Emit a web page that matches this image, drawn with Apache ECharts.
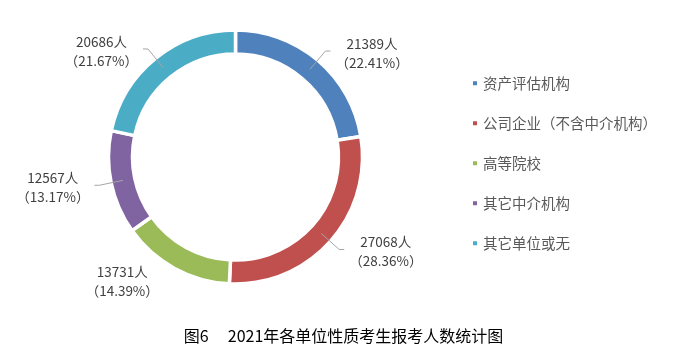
<!DOCTYPE html>
<html>
<head>
<meta charset="utf-8">
<script src="https://cdn.jsdelivr.net/npm/echarts@6/dist/echarts.min.js"></script>
<style>html,body{margin:0;padding:0;background:#fff}#c{width:687px;height:362px}</style>
</head>
<body>
<div id="c"></div>
<script>
const categories = ['资产评估机构', '公司企业（不含中介机构）', '高等院校', '其它中介机构', '其它单位或无'];
const values = [21389, 27068, 13731, 12567, 20686];
const colors = ['#4F81BD', '#C0504D', '#9BBB59', '#8064A2', '#4BACC6'];
const titleFigure = '图6';
const titleText = '2021年各单位性质考生报考人数统计图';

const CX = 235.5, CY = 157, R_IN = 103, R_OUT = 127;
const total = values.reduce((a, b) => a + b, 0);
const cum = [];
values.reduce((acc, v, i) => { cum[i] = acc; return acc + v; }, 0);

const chart = echarts.init(document.getElementById('c'), null, {renderer: 'canvas'});
const labelFont = "'Noto Sans CJK SC', sans-serif";

const pieData = values.map((v, i) => ({value: v, name: categories[i]}));

chart.setOption({
  animation: false,
  color: colors,
  title: {
    text: '{a|' + titleFigure + '}  ' + titleText,
    left: 'center',
    top: 323,
    textStyle: {
      fontSize: 16, fontWeight: 'normal', color: '#000', fontFamily: labelFont,
      rich: {a: {fontSize: 16, color: '#000', fontFamily: labelFont, padding: [0, 12, 0, 0]}}
    }
  },
  legend: {
    orient: 'vertical',
    left: 466,
    top: 71,
    icon: 'rect',
    itemWidth: 6,
    itemHeight: 6,
    itemGap: 25.5,
    textStyle: {fontSize: 14.5, color: '#595959', fontFamily: labelFont, padding: [0, 0, 0, 0]},
    data: categories
  },
  series: [{
    type: 'pie',
    center: [CX, CY],
    radius: [R_IN, R_OUT],
    startAngle: 90,
    clockwise: true,
    z: 2,
    itemStyle: {borderColor: '#fff', borderWidth: 3.5},
    label: {show: false},
    labelLine: {show: false},
    data: pieData
  }, {
    type: 'pie',
    center: [CX, CY],
    radius: [R_IN, R_OUT],
    startAngle: 90,
    clockwise: true,
    z: 5,
    silent: true,
    percentPrecision: 2,
    itemStyle: {color: 'rgba(0,0,0,0)', borderWidth: 0},
    label: {
      show: true,
      position: 'outside',
      color: '#404040',
      fontSize: 13.5,
      lineHeight: 19,
      fontFamily: labelFont,
      formatter: p => p.value + '人\n（' + p.percent.toFixed(2) + '%）'
    },
    labelLine: {show: true, length: 10, length2: 5, lineStyle: {color: '#A6A6A6', width: 1}},
    labelLayout: function (params) {
      const i = params.dataIndex;
      const mid = (90 - (cum[i] + values[i] / 2) / total * 360) * Math.PI / 180;
      const cos = Math.cos(mid), sin = -Math.sin(mid);
      const side = cos >= 0 ? 1 : -1;
      const sx = CX + 115 * cos, sy = CY + 115 * sin;
      const ex = CX + 139 * cos, ey = CY + 139 * sin;
      const hx = ex + side * 5;
      const hw = params.labelRect.width / 2;
      return {
        x: hx + side * (5 + hw),
        y: ey + 2,
        align: 'center',
        verticalAlign: 'middle',
        labelLinePoints: [[sx, sy], [ex, ey], [hx, ey]]
      };
    },
    data: values.map((v, i) => ({
      value: v,
      name: categories[i],
      labelLine: {show: i !== 2}
    }))
  }]
});
</script>
</body>
</html>
